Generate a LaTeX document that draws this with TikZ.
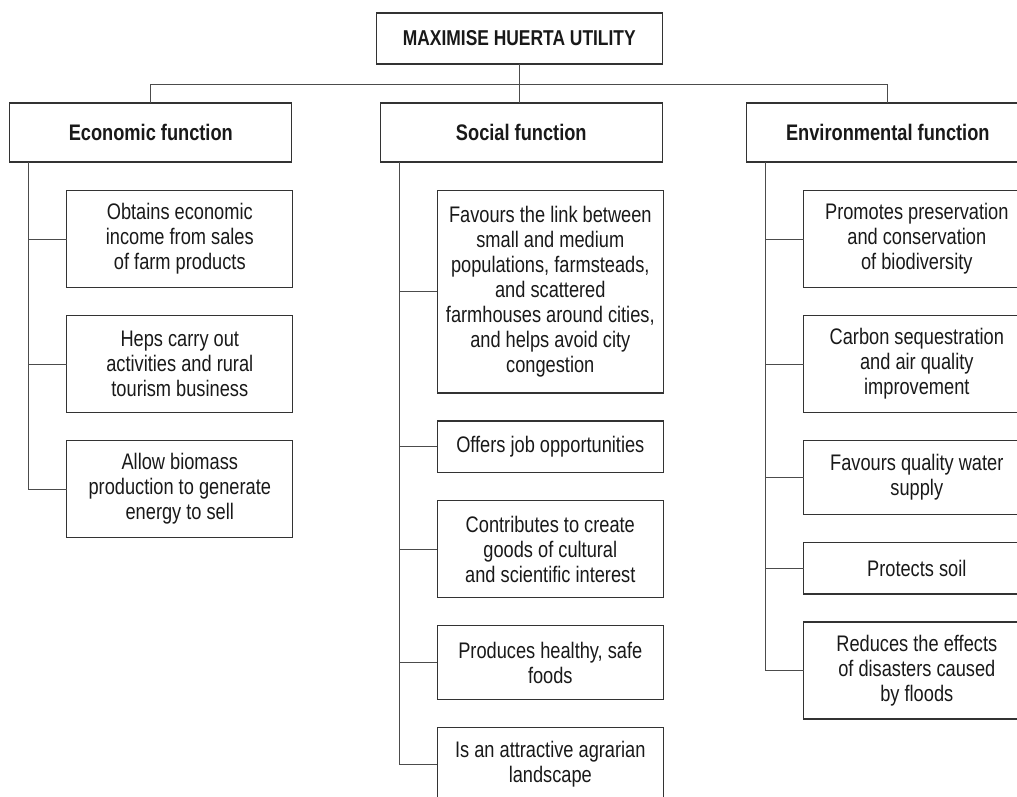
\documentclass[tikz,border=0pt]{standalone}
\usepackage{fontspec}
\setmainfont{Liberation Sans}[FakeStretch=0.81]
\usepackage{tikz}
\usetikzlibrary{positioning}
\tikzset{
  figfont/.style={font=\fontsize{22.5}{25}\selectfont, text=black!90},
  goalbox/.style={draw=black!80, line width=1.1pt, align=center, inner sep=4pt, outer sep=0pt,
    minimum width=286pt, minimum height=51pt, font=\fontsize{21.5}{25}\selectfont\bfseries},
  funcbox/.style={draw=black!80, line width=1.1pt, align=center, inner sep=4pt, outer sep=0pt,
    minimum width=282pt, minimum height=59pt, font=\fontsize{22.5}{25}\selectfont\bfseries},
  itembox/.style={draw=black!80, line width=1.1pt, align=center, inner sep=4pt, outer sep=0pt,
    minimum width=226pt},
  oneline/.style={itembox, minimum height=51.5pt},
  twoline/.style={itembox, minimum height=74pt},
  threeline/.style={itembox, minimum height=97pt},
  link/.style={draw=black!70, line width=0.9pt},
}

\begin{document}
\begin{tikzpicture}[figfont, x=1pt, y=-1pt, node distance=28pt]
  \useasboundingbox (0,0) rectangle (1017,797);
  \clip (0,0) rectangle (1017,797);

  % Goal and function nodes
  \node[goalbox] (goal) at (519.3,38.5) {MAXIMISE HUERTA UTILITY};
  \node[funcbox] (econ) at (150.8,132.5) {Economic function};
  \node[funcbox] (soc) at (521.3,132.5) {Social function};
  \node[funcbox] (env) at (887.8,132.5) {Environmental function};

  % Economic items
  \node[threeline, below right=28.5pt and 57pt of econ.south west] (e1)
    {Obtains economic\\income from sales\\of farm products};
  \node[threeline, below=of e1] (e2)
    {Heps carry out\\activities and rural\\tourism business};
  \node[threeline, below=of e2] (e3)
    {Allow biomass\\production to generate\\energy to sell};

  % Social items
  \node[itembox, minimum height=202.5pt, below right=28.5pt and 57pt of soc.south west] (s1)
    {Favours the link between\\small and medium\\populations, farmsteads,\\and scattered\\farmhouses around cities,\\and helps avoid city\\congestion};
  \node[oneline, below=of s1] (s2) {Offers job opportunities};
  \node[threeline, below=of s2] (s3)
    {Contributes to create\\goods of cultural\\and scientific interest};
  \node[twoline, below=of s3] (s4) {Produces healthy, safe\\foods};
  \node[twoline, below=of s4] (s5) {Is an attractive agrarian\\landscape};

  % Environmental items
  \node[threeline, below right=28.5pt and 57pt of env.south west] (n1)
    {Promotes preservation\\and conservation\\of biodiversity};
  \node[threeline, below=of n1] (n2)
    {Carbon sequestration\\and air quality\\improvement};
  \node[twoline, below=of n2] (n3) {Favours quality water\\supply};
  \node[oneline, below=of n3] (n4) {Protects soil};
  \node[threeline, below=of n4] (n5)
    {Reduces the effects\\of disasters caused\\by floods};

  % Goal to functions
  \draw[link] (goal.south) -- (goal.south |- soc.north);
  \draw[link] (econ.north) -- ([yshift=19pt]econ.north) -| (env.north);

  % Function to items
  \foreach \f/\i in {econ/e1,econ/e2,econ/e3,soc/s1,soc/s2,soc/s3,soc/s4,soc/s5,
                     env/n1,env/n2,env/n3,env/n4,env/n5}
    \draw[link] ([xshift=19pt]\f.south west) |- (\i.west);
\end{tikzpicture}
\end{document}
